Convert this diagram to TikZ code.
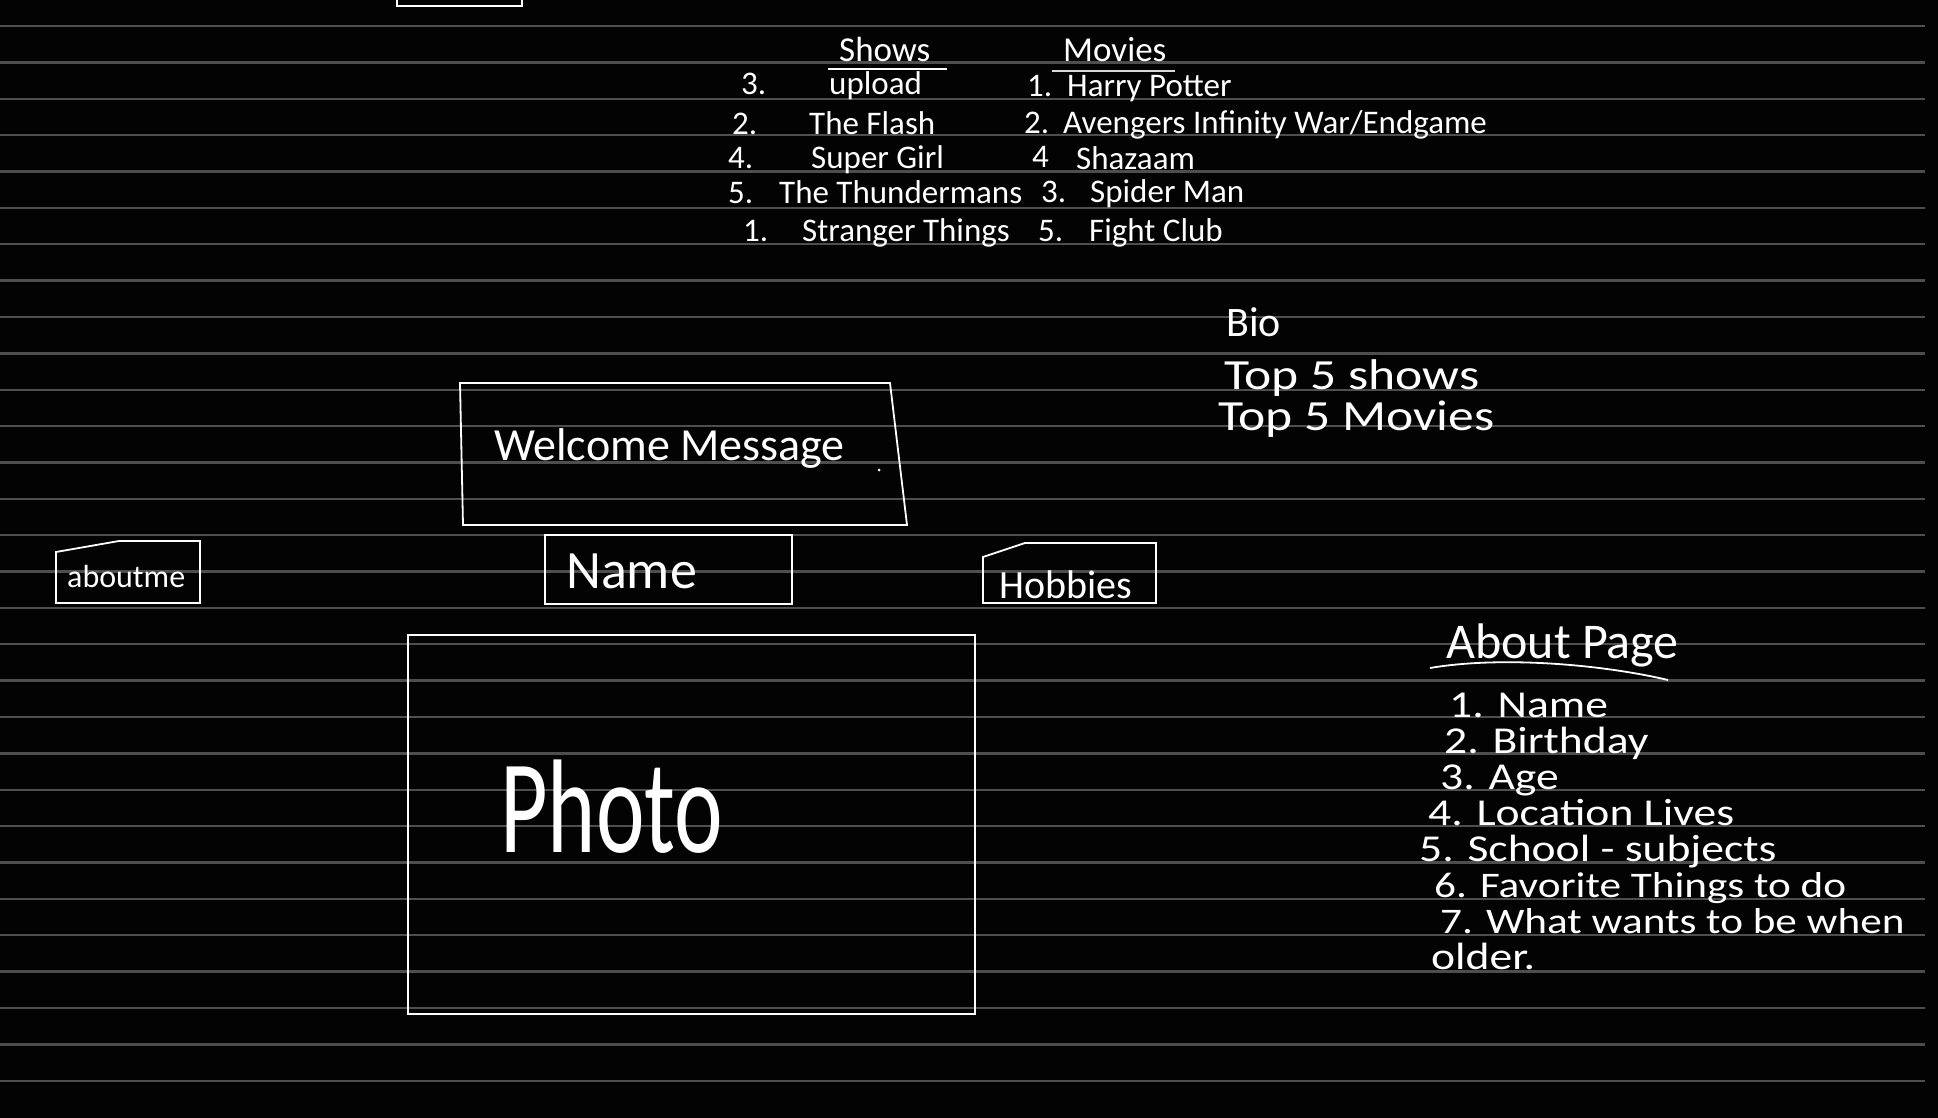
\documentclass[tikz,border=0pt]{standalone}
\usepackage{fontspec}
\usepackage{graphicx}
\setmainfont{Carlito}
\newfontfamily\widehand[FakeStretch=1.2]{Carlito}
\definecolor{board}{HTML}{030303}
\definecolor{ruling}{HTML}{4E4E4E}
\tikzset{
  ink/.style={draw=white, line width=1.8pt},
  ruleline/.style={draw=ruling, line width=2.4pt},
  hand/.style={text=white, inner sep=0pt, anchor=base west},
  head/.style={hand, font=\fontsize{35}{37}\selectfont},
  item/.style={hand, font=\fontsize{33}{35}\selectfont},
  bio/.style={hand, font=\widehand\fontsize{43}{45}\selectfont},
  about/.style={hand, font=\widehand\fontsize{38}{40}\selectfont},
}
\begin{document}
\begin{tikzpicture}[x=1pt, y=-1pt]
  % Fondo
  \fill[board] (0,0) rectangle (1938,1118);
  \useasboundingbox (0,0) rectangle (1938,1118);
  \foreach \k in {0,...,29}
    \draw[ruleline] (0,{26+36.37*\k}) -- (1925,{26+36.37*\k});

  % Caixa no topo
  \draw[ink] (397,-6) rectangle (522,6);

  % Shows
  \node[head] (shows) at (839,62) {Shows};
  \coordinate (su1) at (828,69);
  \coordinate (su2) at (947,69);
  \draw[ink] (su1) -- (su2);
  \node[item] (sn1) at (741,95) {3.};
  \node[item] (s1) at (829,95) {upload};
  \node[item] (sn2) at (732,135) {2.};
  \node[item] (s2) at (809,135) {The Flash};
  \node[item] (sn3) at (728,169) {4.};
  \node[item] (s3) at (811,169) {Super Girl};
  \node[item] (sn4) at (728,204) {5.};
  \node[item] (s4) at (779,204) {The Thundermans};
  \node[item] (sn5) at (743,241) {1.};
  \node[item] (s5) at (802,241) {Stranger Things};

  % Movies
  \node[head] (movies) at (1063,62) {Movies};
  \coordinate (mu1) at (1052,71);
  \coordinate (mu2) at (1175,71);
  \draw[ink, draw=white!85!black] (mu1) -- (mu2);
  \node[item] (mn1) at (1027,97) {1.};
  \node[item] (m1) at (1067,97) {Harry Potter};
  \node[item] (mn2) at (1024,134) {2.};
  \node[item] (m2) at (1063,134) {Avengers Infinity War/Endgame};
  \node[item] (mn3) at (1032,168) {4};
  \node[item] (m3) at (1076,170) {Shazaam};
  \node[item] (mn4) at (1041,203) {3.};
  \node[item] (m4) at (1090,203) {Spider Man};
  \node[item] (mn5) at (1038,241) {5.};
  \node[item] (m5) at (1089,241) {Fight Club};

  % Bio
  \node[bio, font=\fontsize{42}{44}\selectfont] (bio) at (1226,336) {Bio};
  \node[bio] (topshows) at (1224,389) {Top 5 shows};
  \node[bio] (topmovies) at (1218,430) {Top 5 Movies};

  % Welcome
  \coordinate (w1) at (460,383);
  \coordinate (w2) at (890,383);
  \coordinate (w3) at (907,525);
  \coordinate (w4) at (463,525);
  \draw[ink] (w1) -- (w2) -- (w3) -- (w4) -- cycle;
  \node[hand, font=\fontsize{46}{48}\selectfont] (welcome) at (494,460) {Welcome Message};
  \fill[white] (879,470) circle (1.5pt);

  % Botoes
  \draw[ink] (56,603) -- (56,552) -- (119,541) -- (200,541) -- (200,603) -- cycle;
  \node[hand, font=\fontsize{32}{34}\selectfont] (aboutme) at (67,587) {aboutme};
  \draw[ink] (545,535) rectangle (792,604);
  \node[hand, font=\fontsize{54}{56}\selectfont] (name) at (566,588) {Name};
  \draw[ink] (983,603) -- (983,557) -- (1025,543) -- (1156,543) -- (1156,603) -- cycle;
  \node[hand, font=\fontsize{40}{42}\selectfont] (hobbies) at (999,598) {Hobbies};

  % Foto
  \draw[ink] (408,635) rectangle (975,1014);
  \node[hand, font=\fontsize{92}{94}\selectfont] (photo) at (500,852) {\scalebox{1}[1.45]{Photo}};

  % About Page
  \node[hand, font=\fontsize{50}{52}\selectfont] (aboutpage) at (1446,658) {About Page};
  \coordinate (au1) at (1430,668);
  \coordinate (au2) at (1668,680);
  \draw[ink] (au1) .. controls (1500,656) and (1600,664) .. (au2);
  \node[about] (a1) at (1449,717) {1. Name};
  \node[about] (a2) at (1444,753) {2. Birthday};
  \node[about] (a3) at (1440,789) {3. Age};
  \node[about] (a4) at (1428,825) {4. Location Lives};
  \node[about] (a5) at (1419,861) {5. School - subjects};
  \node[about, font=\widehand\fontsize{36}{38}\selectfont] (a6) at (1434,897) {6. Favorite Things to do};
  \node[about, font=\widehand\fontsize{36}{38}\selectfont] (a7) at (1440,933) {7. What wants to be when};
  \node[about] (a8) at (1431,969) {older.};
\end{tikzpicture}
\end{document}
